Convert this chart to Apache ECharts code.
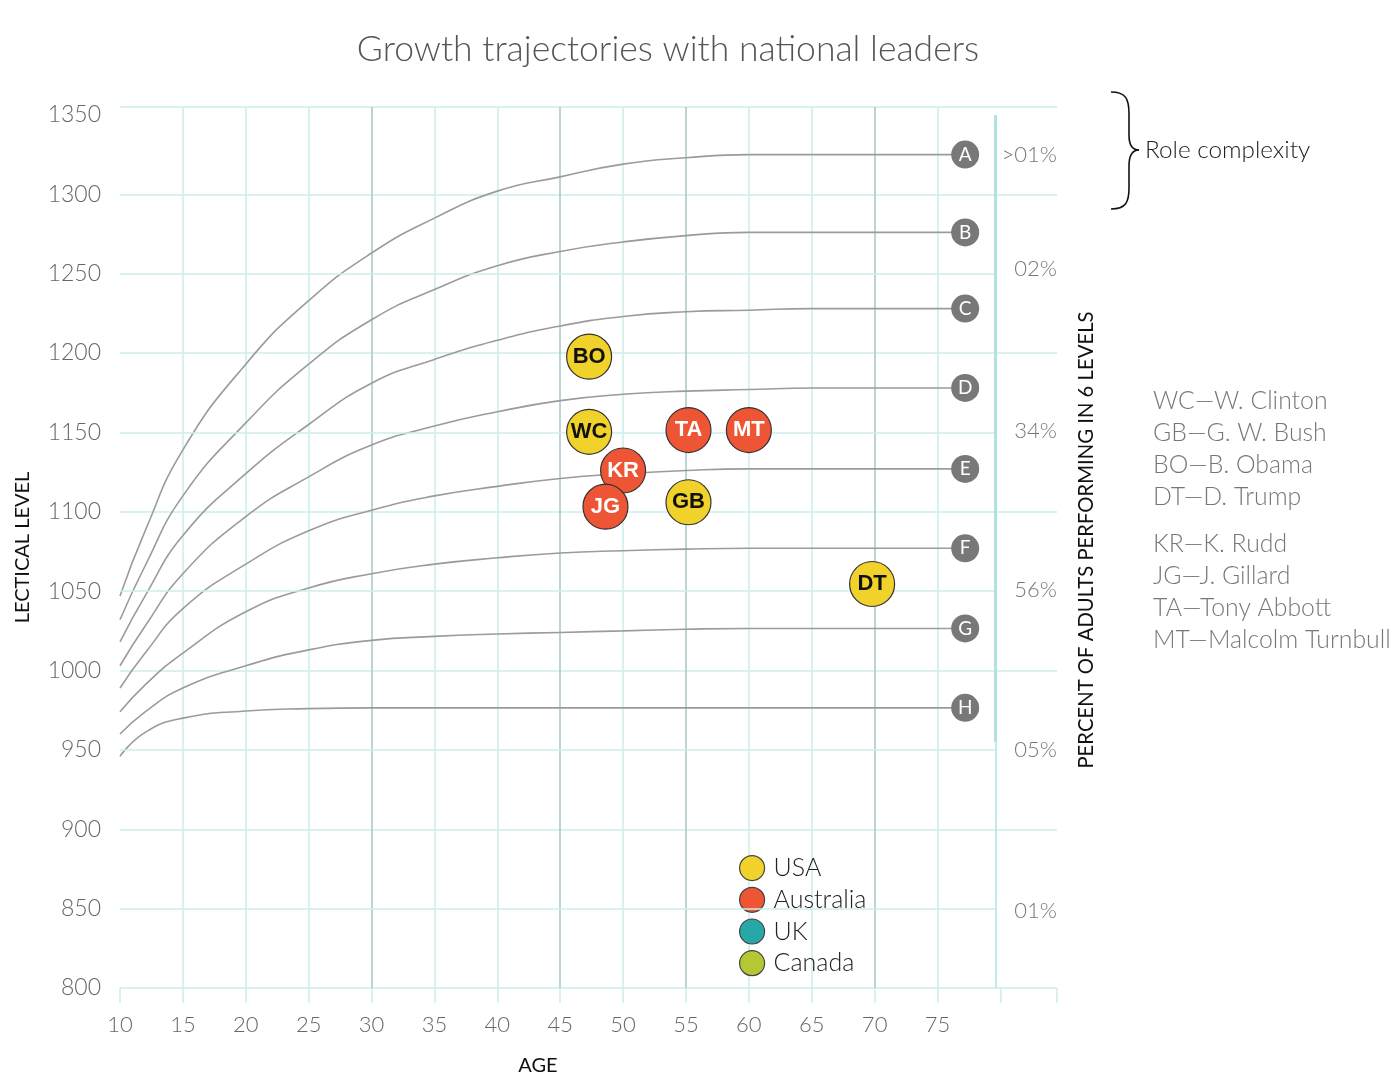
<!DOCTYPE html>
<html>
<head>
<meta charset="utf-8">
<title>Growth trajectories with national leaders</title>
<script src="https://cdn.jsdelivr.net/npm/echarts@6/dist/echarts.min.js"></script>
<style>
  html, body { margin: 0; padding: 0; background: #fff; }
  #chart { width: 1400px; height: 1083px; }
</style>
</head>
<body>
<div id="chart"></div>
<script>
const ages = [10, 12, 15, 20, 25, 30, 35, 40, 45, 50, 55, 60, 65, 70, 77.2]
const curveNames = ['A', 'B', 'C', 'D', 'E', 'F', 'G', 'H']
const curveA = [1047, 1088, 1139, 1193, 1233, 1263, 1285, 1302, 1311, 1319, 1323, 1325, 1325, 1325, 1325]
const curveB = [1032, 1066, 1110, 1156, 1193, 1221, 1240, 1255, 1264, 1270, 1274, 1276, 1276, 1276, 1276]
const curveC = [1018, 1047, 1085, 1124, 1155, 1181, 1196, 1208, 1217, 1223, 1226, 1227, 1228, 1228, 1228]
const curveD = [1003, 1028, 1061, 1097, 1122, 1142, 1154, 1163, 1170, 1174, 1176, 1177, 1178, 1178, 1178]
const curveE = [989, 1011, 1039, 1067, 1088, 1101, 1110, 1116, 1121, 1124, 1126, 1127, 1127, 1127, 1127]
const curveF = [974, 991, 1011, 1037, 1052, 1061, 1067, 1071, 1074, 1075.5, 1076.5, 1077, 1077, 1077, 1077]
const curveG = [960, 974, 989, 1003, 1013, 1019, 1021.5, 1023, 1024, 1025, 1026, 1026.5, 1026.5, 1026.5, 1026.5]
const curveH = [946, 961, 970, 974.5, 976, 976.5, 976.5, 976.5, 976.5, 976.5, 976.5, 976.5, 976.5, 976.5, 976.5]
const curves = [curveA, curveB, curveC, curveD, curveE, curveF, curveG, curveH]

// leaders
const leaderCodes = ['WC', 'GB', 'BO', 'DT', 'KR', 'JG', 'TA', 'MT']
const leaderAges = [47.3, 55.2, 47.3, 69.8, 50.0, 48.6, 55.2, 60.0]
const leaderLevels = [1150.4, 1106, 1197.7, 1054.5, 1126, 1103.2, 1151.5, 1151.5]
const leaderCountry = ['USA', 'USA', 'USA', 'USA', 'Australia', 'Australia', 'Australia', 'Australia']

const countries = ['USA', 'Australia', 'UK', 'Canada']
const countryColors = ['#f0d22b', '#ee5535', '#27a8a8', '#b5c834']
const countryTextColors = ['#111', '#fff', '#fff', '#111']

// right hand side: share of adults per band
const pctLabels = ['>01%', '02%', '34%', '56%', '05%', '01%']
const pctLevels = [1325, 1253, 1151, 1050.5, 950, 848.5]

const leaderNamesUSA = ['WC\u2014W. Clinton', 'GB\u2014G. W. Bush', 'BO\u2014B. Obama', 'DT\u2014D. Trump']
const leaderNamesAUS = ['KR\u2014K. Rudd', 'JG\u2014J. Gillard', 'TA\u2014Tony Abbott', 'MT\u2014Malcolm Turnbull']

const yTicks = [800, 850, 900, 950, 1000, 1050, 1100, 1150, 1200, 1250, 1300, 1350]
const xTicks = [10, 15, 20, 25, 30, 35, 40, 45, 50, 55, 60, 65, 70, 75]
// these gridlines stop at the separator so the percentages sit clear of them
const shortLines = [850, 950, 1050, 1150, 1250]

const FONT = 'Lato, "Noto Sans", sans-serif'
const LIGHT = '#cbeeee'
const DARK = '#a9c4c4'
const SEP = '#b0e2e2'
const NONE = 'rgba(0,0,0,0)'
const letterAge = ages[ages.length - 1]
const sepAge = 79.6

const chart = echarts.init(document.getElementById('chart'))

// vertical grid colours: 30, 45, 55, 70 are darker, 80 is drawn as a separator below
const xLineColors = [10, 15, 20, 25, 30, 35, 40, 45, 50, 55, 60, 65, 70, 75, 80].map(v => {
    if (v === 10 || v === 80) return NONE
    if ([30, 45, 55, 70].indexOf(v) >= 0) return DARK
    return LIGHT
})
xLineColors.push(NONE)
// horizontal grid: top line sits slightly above the 1350 label
const yLineColors = yTicks.map(v => (v === 1350 || shortLines.indexOf(v) >= 0) ? NONE : LIGHT)
yLineColors.push(LIGHT)

const lineSeries = curves.map((c, i) => {
    return {
        type: 'line',
        name: 'curve' + curveNames[i],
        data: ages.map((a, j) => [a, c[j]]),
        showSymbol: false,
        smooth: 0.5,
        lineStyle: { color: '#9b9b9b', width: 1.6 },
        z: 3,
        silent: true
    }
})

const countrySeries = countries.map((name, ci) => {
    const data = []
    leaderCodes.forEach((code, i) => {
        if (leaderCountry[i] === name) {
            data.push({ name: code, value: [leaderAges[i], leaderLevels[i]] })
        }
    })
    return {
        type: 'scatter',
        name: name,
        data: data,
        symbolSize: 45,
        z: 6,
        itemStyle: { color: countryColors[ci], borderColor: '#333', borderWidth: 1.2, opacity: 1 },
        label: {
            show: true,
            formatter: '{b}',
            color: countryTextColors[ci],
            fontFamily: '"Liberation Sans Narrow", "Liberation Sans", Arial, sans-serif',
            fontWeight: 'bold',
            fontSize: 22
        }
    }
})

// curly brace next to "Role complexity"
const braceStyle = { stroke: '#111', lineWidth: 1.6, fill: 'none' }
const brace = [
    { type: 'bezierCurve', shape: { x1: 1111, y1: 92, cpx1: 1126, cpy1: 92, cpx2: 1129, cpy2: 99, x2: 1129, y2: 114 }, style: braceStyle },
    { type: 'line', shape: { x1: 1129, y1: 114, x2: 1129, y2: 135 }, style: braceStyle },
    { type: 'bezierCurve', shape: { x1: 1129, y1: 135, cpx1: 1129, cpy1: 145, cpx2: 1132, cpy2: 150, x2: 1139, y2: 150 }, style: braceStyle },
    { type: 'bezierCurve', shape: { x1: 1139, y1: 150, cpx1: 1132, cpy1: 150, cpx2: 1129, cpy2: 155, x2: 1129, y2: 166 }, style: braceStyle },
    { type: 'line', shape: { x1: 1129, y1: 166, x2: 1129, y2: 188 }, style: braceStyle },
    { type: 'bezierCurve', shape: { x1: 1129, y1: 188, cpx1: 1129, cpy1: 202, cpx2: 1126, cpy2: 209, x2: 1111, y2: 209 }, style: braceStyle }
]

// short gridlines + separator, drawn under the curves
const gridMarks = shortLines.map(v => [
    { coord: [10, v], lineStyle: { color: LIGHT, width: 1.5, type: 'solid' } },
    { coord: [sepAge, v] }
]).concat([
    [{ coord: [sepAge, 1350], lineStyle: { color: SEP, width: 3, type: 'solid' } }, { coord: [sepAge, 955] }],
    [{ coord: [sepAge, 955], lineStyle: { color: SEP, width: 1.5, type: 'solid' } }, { coord: [sepAge, 800] }]
])

const option = {
    animation: false,
    backgroundColor: '#fff',
    title: {
        text: 'Growth trajectories with national leaders',
        left: 663,
        top: 27,
        textAlign: 'center',
        textStyle: { fontFamily: FONT, fontWeight: 300, fontSize: 35.5, color: '#555' }
    },
    legend: {
        data: countries,
        orient: 'vertical',
        left: 734,
        top: 850,
        icon: 'circle',
        itemWidth: 25,
        itemHeight: 25,
        itemGap: 5.5,
        selectedMode: false,
        itemStyle: { borderColor: '#444', borderWidth: 1.2 },
        textStyle: { fontFamily: FONT, fontWeight: 300, fontSize: 25, color: '#222', padding: [0, 0, 0, 4] }
    },
    grid: { left: 120, right: 343, top: 107, bottom: 95, containLabel: false },
    xAxis: {
        type: 'value',
        min: 10,
        max: 84.5,
        interval: 5,
        axisLine: { show: false },
        axisTick: { show: true, length: 15, lineStyle: { color: LIGHT, width: 1.5 } },
        axisLabel: {
            margin: 26,
            fontFamily: FONT,
            fontWeight: 300,
            fontSize: 22,
            color: '#666',
            formatter: v => (xTicks.indexOf(v) >= 0 ? String(v) : '')
        },
        splitLine: { show: true, lineStyle: { color: xLineColors, width: 1.5 } }
    },
    yAxis: {
        type: 'value',
        min: 800,
        max: 1355,
        interval: 50,
        name: 'LECTICAL LEVEL',
        nameLocation: 'middle',
        nameRotate: 90,
        nameGap: 87,
        nameTextStyle: { fontFamily: FONT, fontSize: 20, color: '#111' },
        axisLine: { show: false },
        axisTick: { show: false },
        axisLabel: {
            margin: 19,
            fontFamily: FONT,
            fontWeight: 300,
            fontSize: 23,
            color: '#666',
            formatter: v => (yTicks.indexOf(v) >= 0 ? String(v) : '')
        },
        splitLine: { show: true, lineStyle: { color: yLineColors, width: 1.5 } }
    },
    graphic: [
        {
            type: 'text',
            x: 538,
            y: 1066,
            style: { text: 'AGE', fontFamily: FONT, fontSize: 20, fill: '#111', textAlign: 'center', textVerticalAlign: 'middle' }
        },
        {
            type: 'text',
            x: 1086,
            y: 540,
            rotation: Math.PI / 2,
            style: {
                text: 'PERCENT OF ADULTS PERFORMING IN 6 LEVELS',
                fontFamily: FONT,
                fontSize: 20.3,
                fill: '#111',
                textAlign: 'center',
                textVerticalAlign: 'middle'
            }
        },
        {
            type: 'text',
            x: 1145,
            y: 150,
            style: {
                text: 'Role complexity',
                fontFamily: FONT,
                fontWeight: 300,
                fontSize: 24.3,
                fill: '#222',
                textVerticalAlign: 'middle'
            }
        }
    ].concat(brace).concat(leaderNamesUSA.map((t, i) => ({
        type: 'text',
        x: 1153,
        y: 401 + i * 32,
        style: { text: t, fontFamily: FONT, fontWeight: 300, fontSize: 24.8, fill: '#777', textVerticalAlign: 'middle' }
    }))).concat(leaderNamesAUS.map((t, i) => ({
        type: 'text',
        x: 1153,
        y: 544 + i * 32,
        style: { text: t, fontFamily: FONT, fontWeight: 300, fontSize: 24.8, fill: '#777', textVerticalAlign: 'middle' }
    }))),
    series: [
        {
            type: 'line',
            name: 'gridMarks',
            data: [],
            z: 1,
            silent: true,
            markLine: { silent: true, symbol: 'none', label: { show: false }, data: gridMarks }
        }
    ].concat(lineSeries).concat([
        {
            type: 'scatter',
            name: 'letters',
            data: curves.map((c, i) => ({ name: curveNames[i], value: [letterAge, c[c.length - 1]] })),
            symbolSize: 28,
            z: 5,
            silent: true,
            itemStyle: { color: '#787878', opacity: 1 },
            label: { show: true, formatter: '{b}', color: '#fff', fontFamily: FONT, fontSize: 19 }
        },
        {
            type: 'custom',
            name: 'pct',
            data: pctLevels.map(v => [84.5, v]),
            silent: true,
            z: 4,
            renderItem: (params, api) => {
                const p = api.coord([api.value(0), api.value(1)])
                return {
                    type: 'text',
                    x: p[0],
                    y: p[1],
                    style: {
                        text: pctLabels[params.dataIndex],
                        textAlign: 'right',
                        textVerticalAlign: 'middle',
                        fontFamily: FONT,
                        fontWeight: 300,
                        fontSize: 22,
                        fill: '#777'
                    }
                }
            }
        }
    ]).concat(countrySeries)
}

chart.setOption(option)
</script>
</body>
</html>
